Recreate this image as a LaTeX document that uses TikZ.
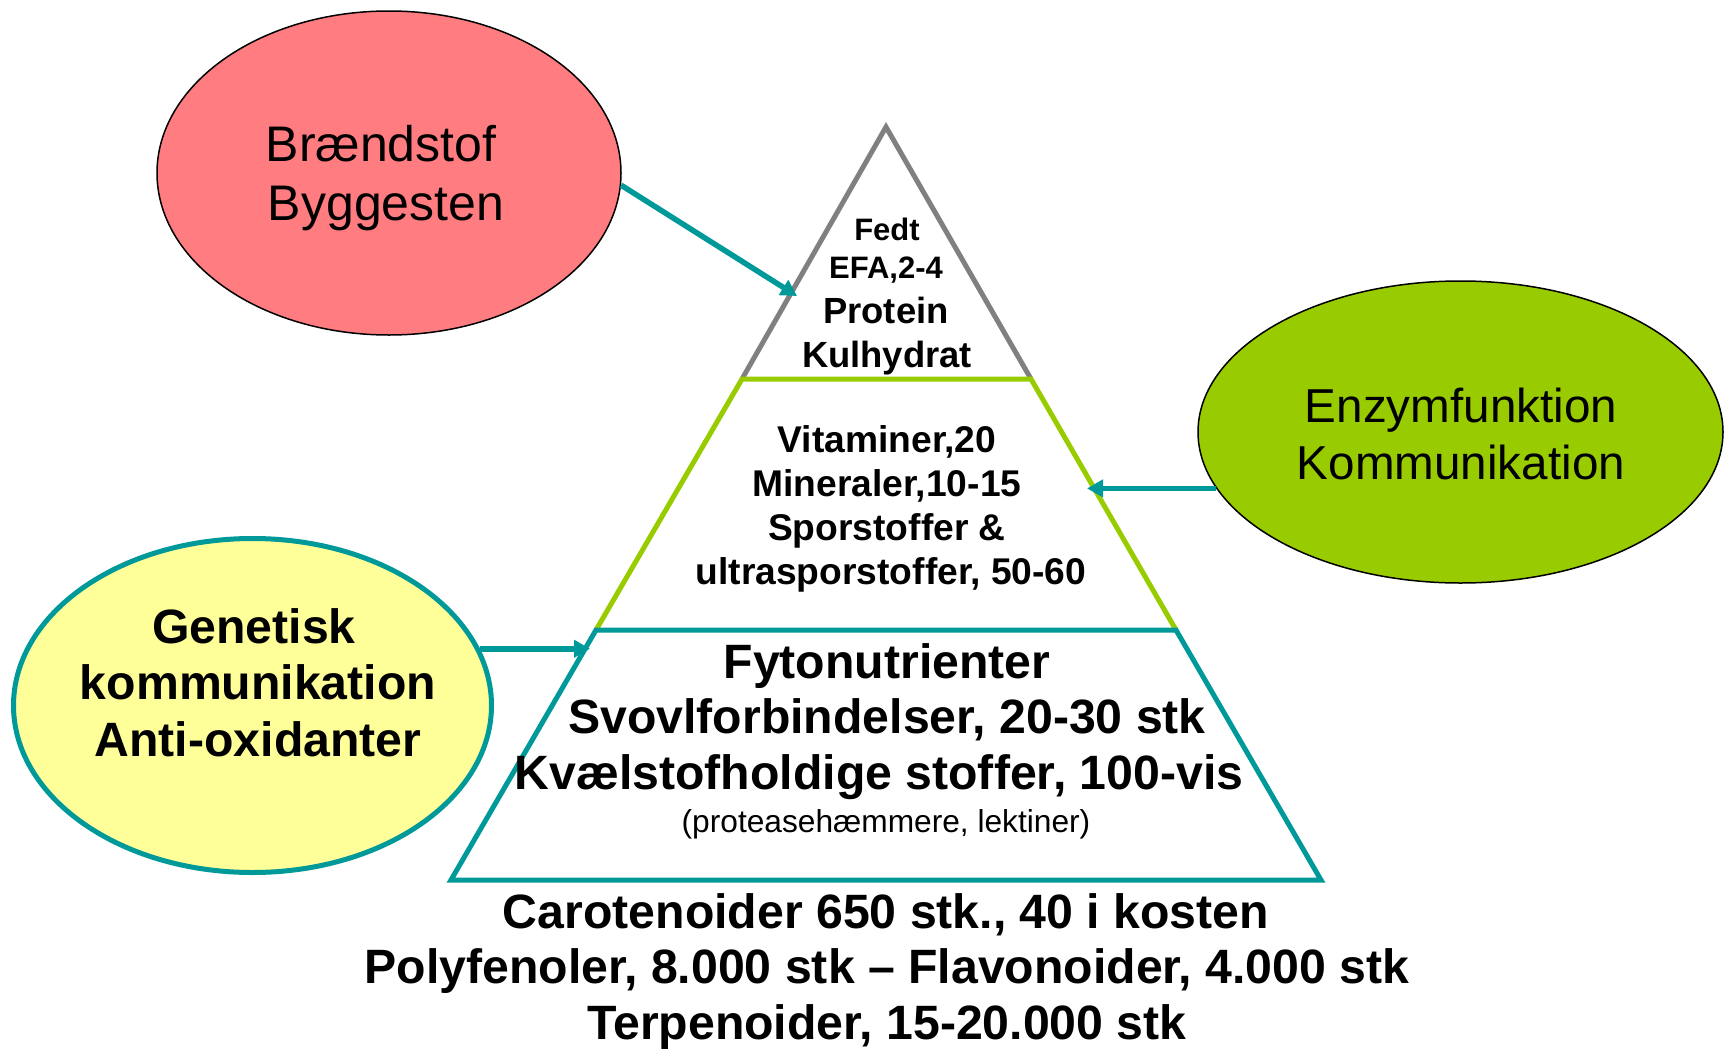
\documentclass[tikz,border=0pt]{standalone}
\usepackage{fontspec}
\setmainfont{Liberation Sans}
\usetikzlibrary{shapes.geometric,arrows.meta}
\definecolor{teal1}{HTML}{009999}
\definecolor{lime1}{HTML}{99CC00}
\definecolor{grey1}{HTML}{808080}
\definecolor{pink1}{HTML}{FF7C80}
\definecolor{yell1}{HTML}{FFFF99}
\tikzset{
  lbl/.style={anchor=base, inner sep=0pt, text=black},
  bubble/.style={ellipse, inner sep=0pt},
  conn/.style={draw=teal1, line width=2.75pt, -{Triangle[length=8pt,width=8.5pt]}},
  band/.style={line width=2.5pt, line join=miter},
  fA/.style={font=\fontsize{25pt}{30pt}\selectfont},
  fB/.style={font=\fontsize{23.8pt}{28pt}\selectfont},
  fBb/.style={font=\fontsize{24.1pt}{28pt}\selectfont\bfseries},
  fMid/.style={font=\fontsize{18.6pt}{22pt}\selectfont\bfseries},
  fTopS/.style={font=\fontsize{15.5pt}{18pt}\selectfont\bfseries},
  fTopL/.style={font=\fontsize{18.2pt}{22pt}\selectfont\bfseries},
  fSmall/.style={font=\fontsize{15.85pt}{19pt}\selectfont},
}
\begin{document}
\begin{tikzpicture}[x=0.5pt,y=-0.5pt]
\useasboundingbox (0,0) rectangle (1725,1049);

% ellipses
\node[bubble, draw=black, line width=0.75pt, fill=pink1, minimum width=232pt, minimum height=162pt] (red) at (389,173) {};
\node[bubble, draw=black, line width=0.75pt, fill=lime1, minimum width=262.5pt, minimum height=151pt] (grn) at (1460.5,432) {};
\node[bubble, draw=teal1, line width=2.5pt, fill=yell1, minimum width=239pt, minimum height=167pt] (yel) at (252.5,705.5) {};

% pyramid
\coordinate (apex) at (886,127);
\coordinate (l1) at (742,379);
\coordinate (r1) at (1031,379);
\coordinate (l2) at (596,630);
\coordinate (r2) at (1176,630);
\coordinate (l3) at (451,880);
\coordinate (r3) at (1321,880);
\draw[band, draw=grey1] (l1) -- (apex) -- (r1);
\draw[band, draw=lime1] (l2) -- (l1) -- (r1) -- (r2);
\draw[band, draw=teal1] (l2) -- (r2) -- (r3) -- (l3) -- cycle;

% texts in ellipses
\node[lbl, fA] (rt1) at (381,161) {Brændstof};
\node[lbl, fA] (rt2) at (386,220) {Byggesten};
\node[lbl, fB] (gt1) at (1461,422) {Enzymfunktion};
\node[lbl, fB] (gt2) at (1461,479) {Kommunikation};
\node[lbl, fBb] (yt1) at (254,643) {Genetisk};
\node[lbl, fBb] (yt2) at (258,699) {kommunikation};
\node[lbl, fBb] (yt3) at (258,756) {Anti-oxidanter};

% top triangle text
\node[lbl, fTopS] (p1) at (887,240) {Fedt};
\node[lbl, fTopS] (p2) at (886,278) {EFA,2-4};
\node[lbl, fTopL] (p3) at (886,323) {Protein};
\node[lbl, fTopL] (p4) at (887,367) {Kulhydrat};

% middle band text
\node[lbl, fMid] (m1) at (887,452) {Vitaminer,20};
\node[lbl, fMid] (m2) at (887,496) {Mineraler,10-15};
\node[lbl, fMid] (m3) at (887,540) {Sporstoffer \&};
\node[lbl, fMid] (m4) at (891,584) {ultrasporstoffer, 50-60};

% bottom band text
\node[lbl, fBb] (b1) at (887,678) {Fytonutrienter};
\node[lbl, fBb] (b2) at (887,733) {Svovlforbindelser, 20-30 stk};
\node[lbl, fBb] (b3) at (879,789) {Kvælstofholdige stoffer, 100-vis};
\node[lbl, fSmall] (b4) at (886,832) {(proteasehæmmere, lektiner)};

% text below pyramid
\node[lbl, fBb] (c1) at (886,928) {Carotenoider 650 stk., 40 i kosten};
\node[lbl, fBb] (c2) at (887,983) {Polyfenoler, 8.000 stk – Flavonoider, 4.000 stk};
\node[lbl, fBb] (c3) at (887,1039) {Terpenoider, 15-20.000 stk};

% connectors
\coordinate (tA) at (797,296);
\coordinate (gA) at (1087,488);
\coordinate (yA) at (590,649);
\draw[conn] (red.-3.2) -- (tA);
\draw[conn] (grn.193.9) -- (grn.193.9 -| gA);
\draw[conn] (yel.14.7) -- (yel.14.7 -| yA);
\end{tikzpicture}
\end{document}
